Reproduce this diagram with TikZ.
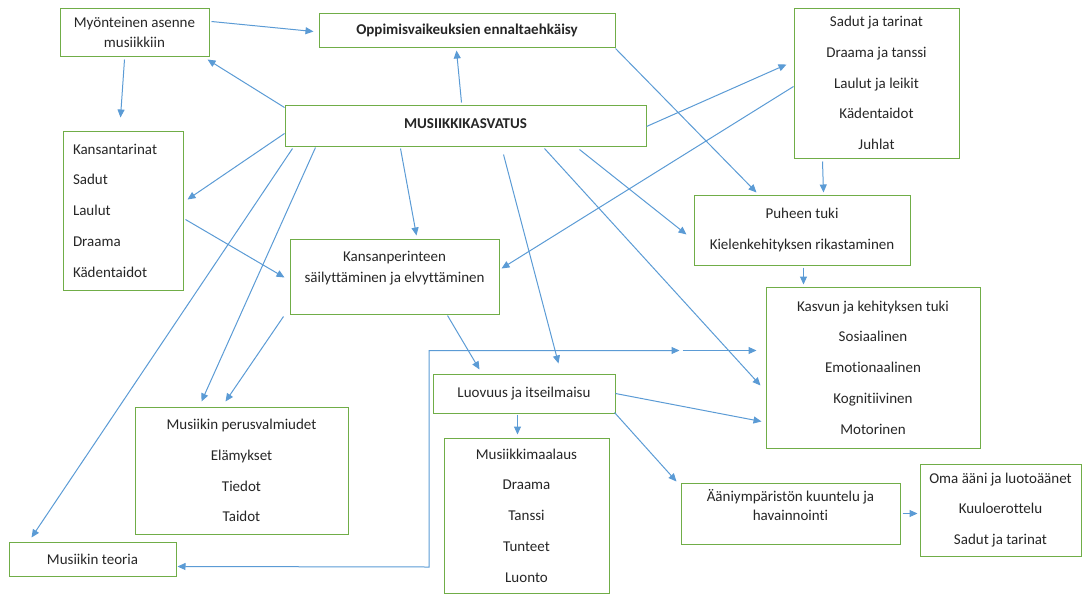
\documentclass[tikz,border=0pt]{standalone}
\usepackage{fontspec}
\setmainfont{Carlito}[Ligatures={TeX,NoCommon}]
\usetikzlibrary{arrows.meta,calc}

\definecolor{boxgreen}{RGB}{112,173,71}
\definecolor{arrowblue}{RGB}{91,155,213}

\tikzset{
  box/.style={draw=boxgreen, line width=1pt, rectangle, inner sep=0pt, align=center,
    font=\fontsize{15}{20}\selectfont, text=black!85},
  listbox/.style={box, font=\fontsize{15}{30.75}\selectfont},
  link/.style={draw=arrowblue, line width=1pt, -{Triangle[length=8pt,width=7pt]}},
}

\begin{document}
\begin{tikzpicture}[x=1pt,y=-1pt]
		%%%%% START %%%%%
		\useasboundingbox (0,0) rectangle (1082,595);
		
		\node[box, minimum width=149, minimum height=48] (myon) at (134.5,32) {Myönteinen asenne\\musiikkiin};
		\node[box, minimum width=296, minimum height=34, font=\fontsize{15}{20}\selectfont\bfseries] (oppi) at (467,30) {Oppimisvaikeuksien ennaltaehkäisy};
		\node[box, minimum width=361, minimum height=41, font=\fontsize{15}{20}\selectfont\bfseries] (mus) at (465.5,125.5) {\raisebox{4pt}{MUSIIKKIKASVATUS}};
		
		\node[listbox, align=left, text width=100, inner xsep=10pt, minimum height=159] (kans) at (123,210.5) {Kansantarinat\\Sadut\\Laulut\\Draama\\Kädentaidot};
		\node[box, minimum width=209, minimum height=75, font=\fontsize{15}{21}\selectfont] (perin) at (394.5,276.5) {Kansanperinteen\\säilyttäminen ja elvyttäminen\\[-2pt]\mbox{}};
		\node[listbox, minimum width=165, minimum height=150] (sadut) at (876.5,83) {Sadut ja tarinat\\Draama ja tanssi\\Laulut ja leikit\\Kädentaidot\\Juhlat};
		\node[listbox, minimum width=216, minimum height=70] (puhe) at (802,230) {Puheen tuki\\Kielenkehityksen rikastaminen};
		\node[listbox, minimum width=214, minimum height=161] (kasvu) at (873,367.5) {Kasvun ja kehityksen tuki\\Sosiaalinen\\Emotionaalinen\\Kognitiivinen\\Motorinen};
		
		\node[box, minimum width=182, minimum height=39] (luov) at (524,393.5) {Luovuus ja itseilmaisu};
		\node[listbox, minimum width=165, minimum height=155] (maal) at (526.5,515.5) {Musiikkimaalaus\\Draama\\Tanssi\\Tunteet\\Luonto};
		\node[listbox, minimum width=213, minimum height=127] (perus) at (241.5,470.5) {Musiikin perusvalmiudet\\Elämykset\\Tiedot\\Taidot};
		\node[box, minimum width=167, minimum height=34] (teor) at (92.5,559) {Musiikin teoria};
		\node[box, minimum width=219, minimum height=61, font=\fontsize{15}{19}\selectfont] (aani) at (790.5,513.5) {Ääniympäristön kuuntelu ja\\havainnointi\\[-2pt]\mbox{}};
		\node[listbox, minimum width=161, minimum height=92] (oma) at (1000.5,510) {Oma ääni ja luotoäänet\\Kuuloerottelu\\Sadut ja tarinat};
		
		% connectors
		\draw[link] ([shift={(152,14)}]myon.north west) -- ([shift={(-5,19)}]oppi.north west);
		\draw[link] ([shift={(0,3)}]mus.north west) -- ([shift={(148,52)}]myon.north west);
		\draw[link] ([shift={(65,52)}]myon.north west) -- ([shift={(58,-13)}]kans.north west);
		\draw[link] ([shift={(0,29)}]mus.north west) -- ([shift={(125,69)}]kans.north west);
		\draw[link] ([shift={(123,89)}]kans.north west) -- ([shift={(-5,39)}]perin.north west);
		\draw[link] ([shift={(8,44)}]mus.north west) -- ([shift={(23,-4)}]teor.north west);
		\draw[link] ([shift={(31,43)}]mus.north west) -- ([shift={(67,-5)}]perus.north west);
		\draw[link] ([shift={(-6,78)}]perin.north west) -- ([shift={(91,-5)}]perus.north west);
		\draw[link] ([shift={(116,44)}]mus.north west) -- ([shift={(127,-3)}]perin.north west);
		\draw[link] ([shift={(177,-2)}]mus.north west) -- ([shift={(138,38)}]oppi.north west);
		\draw[link] ([shift={(362,22)}]mus.north west) -- ([shift={(-7,57)}]sadut.north west);
		\draw[link] ([shift={(0,79)}]sadut.north west) -- ([shift={(212,30)}]perin.north west);
		\draw[link] ([shift={(297,36)}]oppi.north west) -- ([shift={(63,-2)}]puhe.north west);
		\draw[link] ([shift={(295,45)}]mus.north west) -- ([shift={(-7,40)}]puhe.north west);
		\draw[link] ([shift={(29,154)}]sadut.north west) -- ([shift={(130,-2)}]puhe.north west);
		\draw[link] ([shift={(110,73)}]puhe.north west) -- ([shift={(38,-2)}]kasvu.north west);
		\draw[link] ([shift={(260,44)}]mus.north west) -- ([shift={(-5,99)}]kasvu.north west);
		\draw[link] ([shift={(219,50)}]mus.north west) -- ([shift={(126,-10)}]luov.north west);
		\draw[link] ([shift={(158,77)}]perin.north west) -- ([shift={(47,-4)}]luov.north west);
		\draw[link] ([shift={(85,41)}]luov.north west) -- ([shift={(74,-3)}]maal.north west);
		\draw[link] ([shift={(182,39)}]luov.north west) -- ([shift={(-4,-1)}]aani.north west);
		\draw[link] ([shift={(183,20)}]luov.north west) -- ([shift={(-4,135)}]kasvu.north west);
		\draw[link] ([shift={(222,31)}]aani.north west) -- ([shift={(-2,50)}]oma.north west);
		
		% the long one round to the theory box
		\coordinate (gap) at ([shift={(-84,64)}]kasvu.north west);
		\coordinate (bend) at (429,567);
		\draw[link, {Triangle[length=8pt,width=7pt]}-{Triangle[length=8pt,width=7pt]}] ([shift={(169,25)}]teor.north west) -- (bend) |- ([xshift=-2]gap);
		\draw[link] ([xshift=1]gap) -- ([shift={(-9,64)}]kasvu.north west);
		
		%%%%% END %%%%%
\end{tikzpicture}
\end{document}
